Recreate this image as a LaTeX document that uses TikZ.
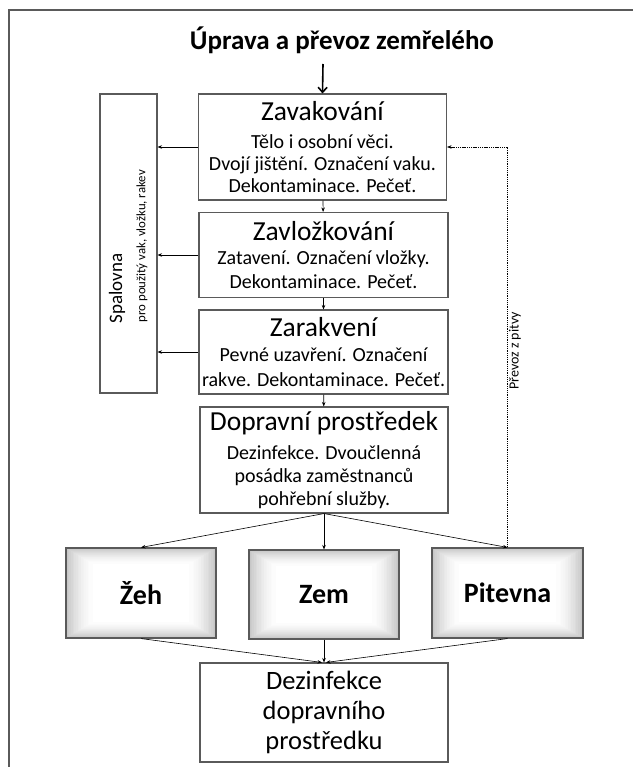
\documentclass[tikz,border=0pt]{standalone}
\usepackage{fontspec}
\setmainfont{Carlito}
\usetikzlibrary{arrows.meta,calc}
\definecolor{boxgray}{HTML}{5A5A5A}
\newcommand\gradfill[4]{%
  \foreach \k in {0,...,30}{%
    \pgfmathsetmacro\tt{min(1,\k/18)}%
    \pgfmathtruncatemacro\pc{round(22*(1-\tt)^1.8)}%
    \pgfmathsetmacro\fx{#3*(1-\k/45)}%
    \pgfmathsetmacro\fy{#4*(1-\k/45)}%
    \fill[black!\pc] (#1-\fx,#2-\fy) rectangle (#1+\fx,#2+\fy);}}
\newcommand\ttlfont{\fontsize{27.5}{29}\selectfont}
\begin{document}
\begin{tikzpicture}[x=1pt,y=-1pt,
  box/.style={draw=boxgray,line width=1.1pt,align=center,inner sep=0pt,
    font=\fontsize{20}{23}\selectfont},
  shbox/.style={draw=boxgray,line width=1.1pt,inner sep=0pt,
    font=\bfseries\fontsize{28}{30}\selectfont},
  arr/.style={-{Stealth[length=4.5pt,width=3.5pt]},line width=0.6pt},
  dasharr/.style={arr,dash pattern=on 1.3pt off 0.9pt}]
\useasboundingbox (0,0) rectangle (633,767);
\fill[white] (0,0) rectangle (633,767);
% frame
\draw[boxgray,line width=1.5pt] (9,767) -- (9,10) -- (633,10);
% title
\node[font=\bfseries\fontsize{27}{28}\selectfont] (title) at (342,40) {Úprava a převoz zemřelého};
% main column
\node[box,minimum width=248pt,minimum height=106pt,font=\fontsize{20}{22}\selectfont] (zav) at (322.5,147)
  {{\ttlfont Zavakování}\\[6pt] Tělo i osobní věci.\\ Dvojí jištění. Označení vaku.\\ Dekontaminace. Pečeť.};
\node[box,minimum width=249pt,minimum height=85pt,font=\fontsize{20}{24}\selectfont] (zvl) at (323.5,255)
  {{\ttlfont Zavložkování}\\[0pt] Zatavení. Označení vložky.\\ Dekontaminace. Pečeť.};
\node[box,minimum width=249pt,minimum height=84pt,font=\fontsize{20}{25}\selectfont] (zar) at (323.5,352)
  {{\ttlfont Zarakvení}\\[0pt] Pevné uzavření. Označení\\ rakve. Dekontaminace. Pečeť.};
\node[box,minimum width=248pt,minimum height=106pt,font=\fontsize{20}{23}\selectfont] (dop) at (324,460)
  {{\ttlfont Dopravní prostředek}\\[6pt] Dezinfekce. Dvoučlenná\\ posádka zaměstnanců\\ pohřební služby.};
% Spalovna
\node[box,minimum width=57pt,minimum height=299pt] (spal) at (128.5,243.5) {};
\node[rotate=90,anchor=west,inner sep=0pt,font=\fontsize{19}{19}\selectfont] (spaltxt) at (117,323.5) {Spalovna};
\node[rotate=90,anchor=west,inner sep=0pt,font=\fontsize{12.8}{13}\selectfont] (spalsub) at (142,322.5) {pro použitý vak, vložku, rakev};
% shaded boxes
\gradfill{141}{593}{75}{45}
\gradfill{324}{594.5}{75}{44.5}
\gradfill{507.5}{593}{75.5}{45}
\node[shbox,minimum width=150pt,minimum height=90pt] (zeh) at (141,593) {Žeh};
\node[shbox,minimum width=150pt,minimum height=89pt] (zem) at (324,594.5) {Zem};
\node[shbox,minimum width=151pt,minimum height=90pt] (pit) at (507.5,593) {Pitevna};
% final box
\node[box,minimum width=248pt,minimum height=99pt,font=\fontsize{26.5}{30}\selectfont] (dez) at (324,712.5)
  {Dezinfekce\\ dopravního\\ prostředku};
% connectors
\coordinate (tarr) at (323,64);
\draw[-{Straight Barb[length=5pt,width=9pt]},line width=1.6pt] (tarr) -- (zav.north);
\draw[arr] (zav) -- (zvl);
\draw[arr] (zvl) -- (zar);
\draw[arr] (zar) -- (dop);
\draw[arr] (zav.west) -- (zav.west -| spal.east);
\draw[arr] (zvl.west) -- (zvl.west -| spal.east);
\draw[arr] (zar.west) -- (zar.west -| spal.east);
\draw[arr] (dop.south) -- (zeh.north);
\draw[arr] (dop.south) -- (zem.north);
\draw[arr] (dop.south) -- (pit.north);
\draw[arr] (zeh.south) -- ([xshift=-2pt]dez.north);
\draw[arr] (zem.south) -- (dez.north);
\draw[arr] (pit.south) -- ([xshift=2pt]dez.north);
\draw[dasharr] (pit.north) |- (zav.east);
\node[rotate=90,font=\fontsize{14}{14}\selectfont,inner sep=0pt] (pitlbl) at (515,351) {Převoz z pitvy};
\end{tikzpicture}
\end{document}
